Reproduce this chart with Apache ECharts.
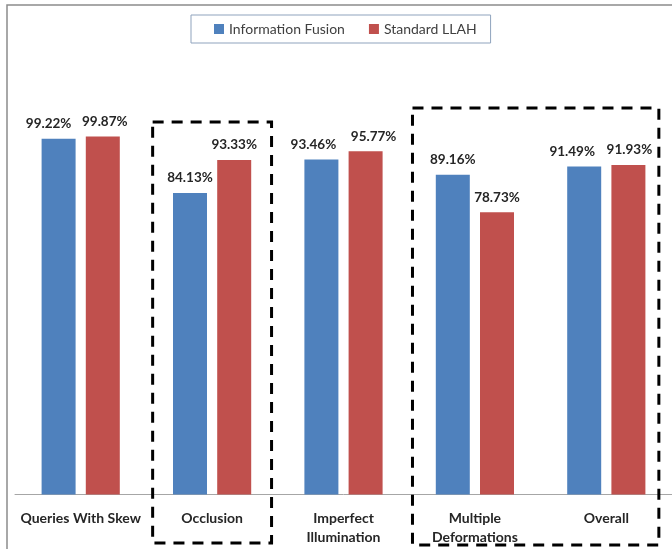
<!DOCTYPE html>
<html>
<head>
<meta charset="utf-8">
<script src="https://cdn.jsdelivr.net/npm/echarts@6/dist/echarts.min.js"></script>
<style>
  html, body { margin: 0; padding: 0; background: #ffffff; }
  #chart { width: 672px; height: 549px; }
</style>
</head>
<body>
<div id="chart"></div>
<script>
// Recognition accuracy per query condition (percent)
const categories = ['Queries With Skew', 'Occlusion', 'Imperfect\nIllumination', 'Multiple\nDeformations', 'Overall'];
const seriesNames = ['Information Fusion', 'Standard LLAH'];
const fusionValues = [99.22, 84.13, 93.46, 89.16, 91.49];
const llahValues = [99.87, 93.33, 95.77, 78.73, 91.93];

// horizontal nudges that keep neighbouring value labels apart
const fusionLabelNudge = [-10, 0, -8, 0, -12];
const llahLabelNudge = [2, 0, 8, 0, 1];

const FONT = 'Lato, "Open Sans", "DejaVu Sans", sans-serif';
const colors = ['#4F81BD', '#C0504D'];

function withLabels(values, nudges) {
  return values.map((v, i) => ({
    value: v,
    label: { offset: [nudges[i], 0] }
  }));
}

const chart = echarts.init(document.getElementById('chart'), null, { renderer: 'canvas' });

const valueLabel = {
  show: true,
  position: 'top',
  distance: 8,
  formatter: p => p.value.toFixed(2) + '%',
  fontFamily: FONT,
  fontSize: 13.5,
  fontWeight: 'bold',
  color: '#262626'
};

const option = {
  animation: false,
  backgroundColor: '#ffffff',
  color: colors,
  legend: {
    left: 191,
    top: 15,
    data: seriesNames,
    icon: 'rect',
    itemWidth: 10,
    itemHeight: 10,
    itemGap: 24,
    padding: [7, 14, 7, 23],
    borderColor: '#8fa3bd',
    borderWidth: 1,
    textStyle: { fontFamily: FONT, fontSize: 14, color: '#404040' }
  },
  grid: { left: 15, top: 136, width: 664, height: 358.5, containLabel: false },
  xAxis: {
    type: 'category',
    data: categories,
    axisLine: { show: true, lineStyle: { color: '#a6a6a6', width: 1 } },
    axisTick: { show: false },
    axisLabel: {
      interval: 0,
      margin: 14,
      fontFamily: FONT,
      fontSize: 14,
      fontWeight: 'bold',
      lineHeight: 19,
      color: '#262626'
    }
  },
  yAxis: {
    type: 'value',
    min: 0,
    max: 100,
    show: false,
    splitLine: { show: false }
  },
  series: [
    {
      name: seriesNames[0],
      type: 'bar',
      barWidth: 34,
      barGap: '30%',
      data: withLabels(fusionValues, fusionLabelNudge),
      label: valueLabel
    },
    {
      name: seriesNames[1],
      type: 'bar',
      barWidth: 34,
      barGap: '30%',
      data: withLabels(llahValues, llahLabelNudge),
      label: valueLabel
    }
  ]
};

chart.setOption(option);

// Dashed highlight boxes placed relative to the category axis,
// plus the outer chart-area frame.
function px(catIndex, value) {
  return chart.convertToPixel({ gridIndex: 0 }, [catIndex, value]);
}
const halfCat = (px(1, 0)[0] - px(0, 0)[0]) / 2;
const boxTop1 = px(0, 103.9)[1];
const boxTop2 = px(0, 107.8)[1];
const box1Left = px(1, 0)[0] - halfCat * 0.905;
const box1Right = px(1, 0)[0] + halfCat * 0.905;
const box2Left = px(3, 0)[0] - halfCat * 0.95;
const box2Right = px(4, 0)[0] + halfCat * 0.8;
const dash = { stroke: '#000000', lineWidth: 3, lineDash: [11, 8], fill: null };

chart.setOption({
  graphic: [
    {
      type: 'rect',
      shape: { x: 7, y: 5, width: 720, height: 620 },
      style: { stroke: '#8c8c8c', lineWidth: 1.5, fill: null },
      silent: true,
      z: 0
    },
    {
      type: 'rect',
      shape: { x: box1Left, y: boxTop1, width: box1Right - box1Left, height: 543 - boxTop1 },
      style: dash,
      silent: true,
      z: 100
    },
    {
      type: 'rect',
      shape: { x: box2Left, y: boxTop2, width: box2Right - box2Left, height: 545 - boxTop2 },
      style: dash,
      silent: true,
      z: 100
    }
  ]
});
</script>
</body>
</html>
